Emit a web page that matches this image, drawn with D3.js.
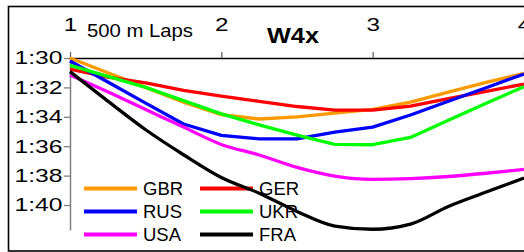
<html>
<head>
<style>
  body { margin: 0; background: #fff; }
  text { font-family: Arial, "Liberation Sans", sans-serif; }
</style>
</head>
<body>
<script src="https://cdn.jsdelivr.net/npm/d3@7"></script>
<div id="chart"></div>
<script>
    // 500 m laps, split readings every quarter lap (seconds)
    var laps = [1, 1.25, 1.5, 1.75, 2, 2.25, 2.5, 2.75, 3, 3.25, 3.5, 3.75, 4];
    var GBR = [90.0, 91.0, 92.0, 93.0, 93.85, 94.15, 94.0, 93.75, 93.5, 93.0, 92.32, 91.66, 91.04];
    var GER = [90.75, 91.3, 91.7, 92.2, 92.6, 92.95, 93.3, 93.55, 93.55, 93.27, 92.77, 92.27, 91.77];
    var RUS = [90.2, 91.63, 93.07, 94.49, 95.26, 95.5, 95.5, 95.05, 94.7, 93.88, 92.94, 92.02, 91.09];
    var UKR = [90.5, 91.25, 92.0, 92.9, 93.8, 94.55, 95.25, 95.87, 95.9, 95.4, 94.24, 93.08, 91.95];
    var USA = [91.15, 92.3, 93.5, 94.7, 95.88, 96.6, 97.44, 98.03, 98.25, 98.2, 98.06, 97.84, 97.58];
    var FRA = [90.93, 92.93, 94.88, 96.58, 98.13, 99.2, 100.44, 101.43, 101.65, 101.3, 100.1, 99.12, 98.16];

    var crews = ["GBR", "GER", "RUS", "UKR", "USA", "FRA"];
    var series = [GBR, GER, RUS, UKR, USA, FRA];
    var colors = ["#FF9900", "#FF0000", "#0000FF", "#00FF00", "#FF00FF", "#000000"];

    var xTicks = [1, 2, 3, 4];
    var yTicks = [90, 92, 94, 96, 98, 100];

    var width = 524, height = 252;

    var svg = d3.select("#chart")
        .append("svg")
        .attr("width", width)
        .attr("height", height);

    // outer frame
    svg.append("rect")
        .attr("x", 8.5).attr("y", 6.5)
        .attr("width", 540).attr("height", 244.5)
        .attr("fill", "#fff")
        .attr("stroke", "#000")
        .attr("stroke-width", 1.6);

    var x = d3.scaleLinear()
        .domain([1, 4])
        .range([70, 524]);

    var y = d3.scaleLinear()
        .domain([90, 101.7])
        .range([58, 230]);

    function fmt(s) {
        var m = Math.floor(s / 60), r = Math.round(s - m * 60);
        return m + ":" + (r < 10 ? "0" + r : r);
    }

    // left axis (times)
    var gy = svg.append("g")
        .attr("transform", "translate(70,0)")
        .call(d3.axisLeft(y).tickValues(yTicks).tickFormat(fmt).tickSize(6).tickSizeOuter(0).tickPadding(1.5));
    gy.select(".domain").attr("stroke", "#808080").attr("stroke-width", 1.5);
    gy.selectAll(".tick line").attr("stroke", "#808080").attr("stroke-width", 1.3);
    gy.selectAll(".tick text")
        .attr("fill", "#000")
        .style("font-size", "18.5px")
        .attr("textLength", 48)
        .attr("lengthAdjust", "spacingAndGlyphs");

    // top axis (laps)
    var gx = svg.append("g")
        .attr("transform", "translate(0,58)")
        .call(d3.axisTop(x).tickValues(xTicks).tickFormat(d3.format("d")).tickSize(6).tickSizeOuter(0).tickPadding(21));
    gx.select(".domain").attr("stroke", "#000").attr("stroke-width", 1.5);
    gx.selectAll(".tick line").attr("stroke", "#666").attr("stroke-width", 1.3);
    gx.selectAll(".tick text")
        .attr("fill", "#000")
        .style("font-size", "18.5px")
        .attr("textLength", 13.5)
        .attr("lengthAdjust", "spacingAndGlyphs");

    svg.append("text")
        .attr("x", 87).attr("y", 36.5)
        .style("font-size", "17.5px")
        .attr("textLength", 106)
        .attr("lengthAdjust", "spacingAndGlyphs")
        .text("500 m Laps");

    svg.append("text")
        .attr("x", 267).attr("y", 42.5)
        .style("font-size", "22.5px")
        .style("font-weight", "bold")
        .attr("textLength", 52)
        .attr("lengthAdjust", "spacingAndGlyphs")
        .text("W4x");

    // legend (drawn under the lines, no box)
    var legend = svg.append("g");
    crews.forEach(function (c, i) {
        var lx = 84 + (i % 2) * 116;
        var ly = 188.5 + Math.floor(i / 2) * 23;
        legend.append("line")
            .attr("x1", lx).attr("x2", lx + 53)
            .attr("y1", ly).attr("y2", ly)
            .attr("stroke", colors[i])
            .attr("stroke-width", 4);
        legend.append("text")
            .attr("x", lx + 59).attr("y", ly + 6.5)
            .style("font-size", "18.5px")
            .attr("fill", "#000")
            .text(c);
    });

    var line = d3.line()
        .x(function (d, i) { return x(laps[i]); })
        .y(function (d) { return y(d); });

    series.forEach(function (s, i) {
        svg.append("path")
            .datum(s)
            .attr("fill", "none")
            .attr("stroke", colors[i])
            .attr("stroke-width", 3.3)
            .attr("stroke-linejoin", "round")
            .attr("d", line.curve(i >= 4 ? d3.curveMonotoneX : d3.curveLinear));
    });
</script>
</body>
</html>
